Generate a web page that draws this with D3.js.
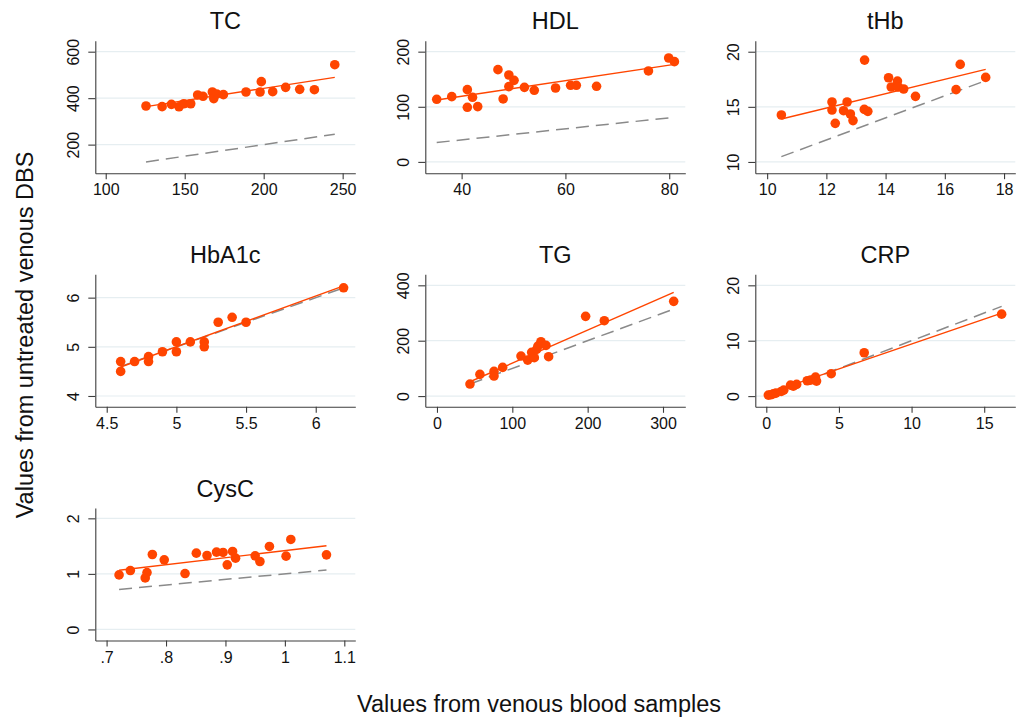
<!DOCTYPE html>
<html>
<head>
<meta charset="utf-8">
<script src="https://cdn.jsdelivr.net/npm/d3@7"></script>
<style>
  html, body { margin: 0; padding: 0; background: #fff; }
  svg { display: block; font-family: "Liberation Sans", Arial, Helvetica, sans-serif; }
</style>
</head>
<body>
<svg id="chart" width="1021" height="718"></svg>
<script>
// ---------- data ----------
const panelNames = ["TC", "HDL", "tHb", "HbA1c", "TG", "CRP", "CysC"];

const tcPoints = [[125.5,366.3],[135.7,363.4],[141.6,373.4],[146.4,363],[149.4,376],[153.8,376],
  [158.2,413.6],[161.6,408],[167.5,426.5],[168.4,398],[170.3,418],[174.5,415],[188.8,426.5],
  [197.7,426.5],[198.5,471],[205.7,428],[213.9,446.6],[222.8,438],[232.1,436.5],[245,544]];
const hdlPoints = [[35.2,113.6],[38.1,118.4],[41.1,131.1],[41.1,99.1],[42.1,117.2],[43.1,100.3],
  [47.0,167.4],[48.0,114.2],[49.1,157.7],[49.1,136.6],[50.1,148],[52.1,135.3],[54.0,129.9],
  [58.1,134.1],[61.0,139],[62.1,139],[66.0,137.2],[76.0,165],[79.9,188.5],[81.0,181.9]];
const thbPoints = [[10.48,14.26],[12.19,15.44],[12.19,14.71],[12.30,13.5],[12.58,14.65],[12.70,15.44],
  [12.81,14.35],[12.90,13.75],[13.29,19.24],[13.28,14.77],[13.40,14.59],[14.10,17.64],[14.19,16.8],
  [14.40,17.34],[14.43,16.8],[14.61,16.62],[15.01,15.95],[16.38,16.56],[16.52,18.85],[17.38,17.67]];
const hba1cPoints = [[4.6,4.7],[4.6,4.5],[4.7,4.7],[4.8,4.8],[4.8,4.7],[4.9,4.9],[5.0,5.1],[5.0,4.9],
  [5.1,5.1],[5.2,5.1],[5.2,5.0],[5.3,5.5],[5.4,5.6],[5.5,5.5],[6.2,6.2]];
const tgPoints = [[43.8,43.4],[57,78.3],[75.7,89.2],[75.7,72.3],[87.2,103.6],[111.5,144.6],[120.4,130],
  [125.7,157.8],[129.2,138.6],[132.3,168.7],[134,180.7],[138,196.4],[144.7,183],[148.2,142.2],
  [197.3,288],[222.1,272.3],[314.2,342.2]];
const crpPoints = [[0.14,0.18],[0.3,0.24],[0.48,0.42],[0.66,0.54],[1.03,0.84],[1.2,1.08],[1.67,1.99],
  [1.86,1.81],[2.09,2.11],[2.82,2.77],[3.05,2.89],[3.39,3.43],[3.46,2.71],[4.47,4.04],[6.74,7.83],
  [16.2,14.8]];
const cyscPoints = [[0.721,0.982],[0.740,1.06],[0.765,0.928],[0.768,1.024],[0.777,1.349],[0.797,1.253],
  [0.832,1.006],[0.851,1.373],[0.869,1.331],[0.885,1.392],[0.896,1.386],[0.903,1.163],[0.912,1.404],
  [0.917,1.283],[0.950,1.325],[0.958,1.223],[0.974,1.494],[1.002,1.319],[1.010,1.620],[1.070,1.343]];

// fitted (orange) line end points
const tcFit = [[125.5,363.4],[245,489.6]];
const hdlFit = [[35.2,112.4],[81.0,177]];
const thbFit = [[10.48,13.9],[17.38,18.4]];
const hba1cFit = [[4.6,4.59],[6.2,6.24]];
const tgFit = [[43.8,51.8],[314.2,374.7]];
const crpFit = [[0.14,0.53],[16.2,14.98]];
const cyscFit = [[0.721,1.066],[1.07,1.506]];

// tick values and labels
const tcXTicks = [100,150,200,250], tcYTicks = [200,400,600];
const hdlXTicks = [40,60,80], hdlYTicks = [0,100,200];
const thbXTicks = [10,12,14,16,18], thbYTicks = [10,15,20];
const hba1cXTicks = [4.5,5,5.5,6], hba1cYTicks = [4,5,6];
const tgXTicks = [0,100,200,300], tgYTicks = [0,200,400];
const crpXTicks = [0,5,10,15], crpYTicks = [0,10,20];
const cyscXTicks = [0.7,0.8,0.9,1,1.1], cyscYTicks = [0,1,2];
const cyscXLabels = [".7",".8",".9","1","1.1"];

const xTitle = "Values from venous blood samples";
const yTitle = "Values from untreated venous DBS";

// ---------- layout ----------
const colLeft = [95.3, 425.3, 755.3];
const rowTop = [40.7, 274.3, 508];
const pw = 260, ph = 132.5;

const panels = [
  {name: panelNames[0], pts: tcPoints, fit: tcFit, xt: tcXTicks, yt: tcYTicks, xd: [93.4,258], yd: [77,647.3], c: 0, r: 0},
  {name: panelNames[1], pts: hdlPoints, fit: hdlFit, xt: hdlXTicks, yt: hdlYTicks, xd: [33,83.1], yd: [-20.5,219.9], c: 1, r: 0},
  {name: panelNames[2], pts: thbPoints, fit: thbFit, xt: thbXTicks, yt: thbYTicks, xd: [9.6,18.38], yd: [8.98,21], c: 2, r: 0},
  {name: panelNames[3], pts: hba1cPoints, fit: hba1cFit, xt: hba1cXTicks, yt: hba1cYTicks, xd: [4.418,6.284], yd: [3.78,6.475], c: 0, r: 1},
  {name: panelNames[4], pts: tgPoints, fit: tgFit, xt: tgXTicks, yt: tgYTicks, xd: [-15.5,329.6], yd: [-38.7,439.8], c: 1, r: 1},
  {name: panelNames[5], pts: crpPoints, fit: crpFit, xt: crpXTicks, yt: crpYTicks, xd: [-0.757,17.14], yd: [-1.93,21.99], c: 2, r: 1},
  {name: panelNames[6], pts: cyscPoints, fit: cyscFit, xt: cyscXTicks, yt: cyscYTicks, xd: [0.681,1.1185], yd: [-0.199,2.186], c: 0, r: 2, xl: cyscXLabels}
];

const svg = d3.select("#chart");
const orange = "#ff4500";
const axisColor = "#3c3c3c";
const plain = d => String(+d.toFixed(6));

panels.forEach(p => {
  const g = svg.append("g").attr("transform", `translate(${colLeft[p.c]},${rowTop[p.r]})`);
  const x = d3.scaleLinear().domain(p.xd).range([0, pw]);
  const y = d3.scaleLinear().domain(p.yd).range([ph, 0]);

  // grid
  g.append("g").selectAll("line").data(p.yt).join("line")
    .attr("x1", 0).attr("x2", pw)
    .attr("y1", d => y(d)).attr("y2", d => y(d))
    .attr("stroke", "#e6eef1").attr("stroke-width", 1.2);

  // x axis
  const xa = g.append("g").attr("transform", `translate(0,${ph})`)
    .call(d3.axisBottom(x).tickValues(p.xt).tickSize(6).tickSizeOuter(0)
      .tickFormat((d, i) => p.xl ? p.xl[i] : plain(d)));
  xa.select(".domain").attr("stroke", axisColor).attr("stroke-width", 1.1);
  xa.selectAll(".tick line").attr("stroke", axisColor).attr("stroke-width", 1.1);
  xa.selectAll(".tick text").attr("font-size", 16).attr("fill", "#111")
    .attr("font-family", "Liberation Sans, Arial, sans-serif").attr("dy", "1.0em").attr("y", 6);

  // y axis
  const ya = g.append("g")
    .call(d3.axisLeft(y).tickValues(p.yt).tickSize(7).tickSizeOuter(0).tickFormat(plain));
  ya.select(".domain").attr("stroke", axisColor).attr("stroke-width", 1.1);
  ya.selectAll(".tick line").attr("stroke", axisColor).attr("stroke-width", 1.1);
  ya.selectAll(".tick text")
    .attr("font-size", 16).attr("fill", "#111")
    .attr("font-family", "Liberation Sans, Arial, sans-serif")
    .attr("x", null).attr("dy", null)
    .attr("text-anchor", "middle")
    .attr("transform", "translate(-16.5,0) rotate(-90)");

  // identity (dashed) line over the data x range
  const xs = p.pts.map(d => d[0]);
  const lo = d3.min(xs), hi = d3.max(xs);
  g.append("line")
    .attr("x1", x(lo)).attr("y1", y(lo)).attr("x2", x(hi)).attr("y2", y(hi))
    .attr("stroke", "#8a8a8a").attr("stroke-width", 1.5).attr("stroke-dasharray", "13,7");

  // points
  g.append("g").selectAll("circle").data(p.pts).join("circle")
    .attr("cx", d => x(d[0])).attr("cy", d => y(d[1])).attr("r", 4.8)
    .attr("fill", orange);

  // fitted line
  g.append("line")
    .attr("x1", x(p.fit[0][0])).attr("y1", y(p.fit[0][1]))
    .attr("x2", x(p.fit[1][0])).attr("y2", y(p.fit[1][1]))
    .attr("stroke", orange).attr("stroke-width", 1.4);

  // title
  g.append("text").attr("x", pw / 2).attr("y", -11.3)
    .attr("text-anchor", "middle").attr("font-size", 23.5).attr("fill", "#111")
    .text(p.name);
});

// overall axis titles
svg.append("text").attr("x", 539).attr("y", 711.5).attr("text-anchor", "middle")
  .attr("font-size", 23.5).attr("fill", "#111").text(xTitle);
svg.append("text").attr("transform", "translate(33,335) rotate(-90)").attr("text-anchor", "middle")
  .attr("font-size", 23.5).attr("fill", "#111").text(yTitle);
</script>
</body>
</html>
